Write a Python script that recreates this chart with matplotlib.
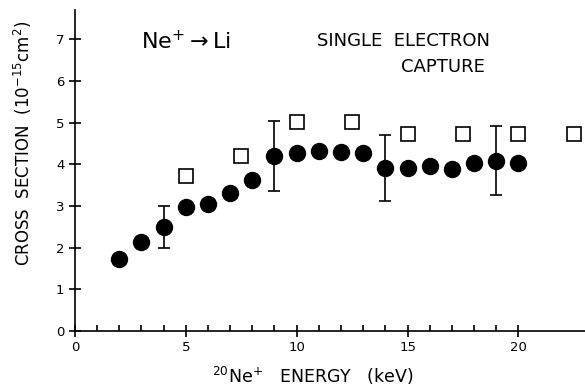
import matplotlib
matplotlib.use("Agg")
import matplotlib.pyplot as plt
from matplotlib.ticker import MultipleLocator, FixedLocator

# gefüllte Punkte (Messung)
energy = [2, 3, 4, 5, 6, 7, 8, 9, 10, 11, 12, 13, 14, 15, 16, 17, 18, 19, 20]
sigma = [1.74, 2.14, 2.50, 2.98, 3.06, 3.30, 3.62, 4.20, 4.26, 4.32, 4.29, 4.28,
         3.90, 3.92, 3.96, 3.88, 4.04, 4.08, 4.02]

# Fehlerbalken nur bei einigen Punkten
err_energy = [4, 9, 14, 19]
err_sigma = [2.50, 4.20, 3.90, 4.08]
err_low = [0.50, 0.85, 0.78, 0.82]
err_high = [0.50, 0.85, 0.80, 0.84]

# offene Quadrate
sq_energy = [5, 7.5, 10, 12.5, 15, 17.5, 20, 22.5]
sq_sigma = [3.72, 4.20, 5.02, 5.02, 4.72, 4.72, 4.72, 4.72]

minor_x = [1, 2, 3, 4, 6, 7, 8, 9, 11, 12, 13, 14, 16, 17, 18, 19]

plt.rcParams["font.family"] = "DejaVu Sans"

fig = plt.figure(figsize=(5.85, 3.89), dpi=100)
ax = fig.add_axes([0.128, 0.149, 0.872, 0.825])

ax.errorbar(err_energy, err_sigma, yerr=[err_low, err_high], fmt="none",
            ecolor="black", elinewidth=1.2, capsize=4, capthick=1.2)
ax.plot(energy, sigma, "o", color="black", markersize=11.5)
ax.plot(sq_energy, sq_sigma, "s", markerfacecolor="white", markeredgecolor="black",
        markersize=10, markeredgewidth=1.2)

ax.set_xlim(0, 23)
ax.set_ylim(0, 7.7)
ax.spines["top"].set_visible(False)
ax.spines["right"].set_visible(False)
ax.spines["left"].set_linewidth(1.2)
ax.spines["bottom"].set_linewidth(1.2)

ax.xaxis.set_major_locator(MultipleLocator(5))
ax.xaxis.set_minor_locator(FixedLocator(minor_x))
ax.yaxis.set_major_locator(MultipleLocator(1))
ax.tick_params(axis="both", which="major", direction="inout", length=8, width=1.2,
               labelsize=9.5)
ax.tick_params(axis="x", which="minor", direction="in", length=4, width=1.2)

ax.set_xlabel("$^{20}$Ne$^{+}$   ENERGY   (keV)", fontsize=12.5)
ax.xaxis.set_label_coords(0.467, -0.105)
ax.set_ylabel("CROSS  SECTION  (10$^{-15}$cm$^{2}$)", fontsize=12)
ax.yaxis.set_label_coords(-0.08, 0.585)

ax.text(3.0, 6.95, "Ne$^{+}$$\\rightarrow$Li", fontsize=16, va="center")
ax.text(10.9, 6.95, "SINGLE  ELECTRON", fontsize=13, va="center")
ax.text(16.6, 6.33, "CAPTURE", fontsize=13, va="center", ha="center")

fig.savefig("out.png", dpi=100)
